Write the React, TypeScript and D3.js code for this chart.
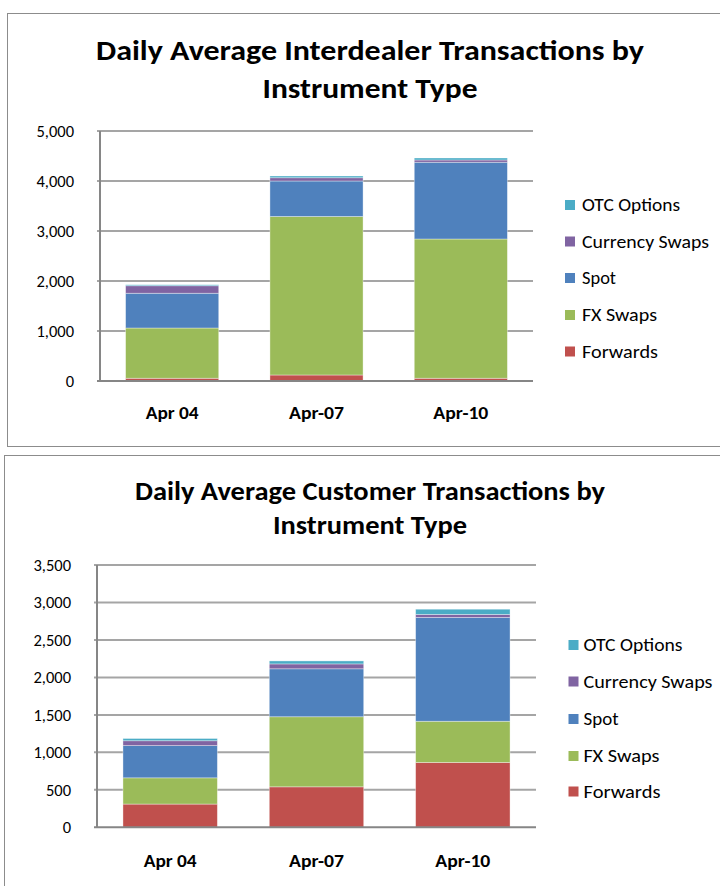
import React from "react";
import * as d3 from "d3";

const categories = ["Apr 04", "Apr-07", "Apr-10"];
const categoryWidths = [53, 55, 55];
const seriesNames = ["Forwards", "FX Swaps", "Spot", "Currency Swaps", "OTC Options"];
const seriesColors = ["#C0504D", "#9BBB59", "#4F81BD", "#8064A2", "#4BACC6"];

const interdealerForwards = [55, 120, 55];
const interdealerFxSwaps = [1005, 3170, 2785];
const interdealerSpot = [695, 710, 1535];
const interdealerCurrencySwaps = [150, 65, 45];
const interdealerOtcOptions = [20, 35, 40];
const interdealerTicks = [0, 1000, 2000, 3000, 4000, 5000];

const customerForwards = [310, 540, 865];
const customerFxSwaps = [350, 935, 550];
const customerSpot = [430, 640, 1385];
const customerCurrencySwaps = [65, 65, 40];
const customerOtcOptions = [30, 40, 70];
const customerTicks = [0, 500, 1000, 1500, 2000, 2500, 3000, 3500];

const FONT = "Carlito, Calibri, Lato, 'Open Sans', sans-serif";

type Panel = {
  frame: { x: number; y: number; w: number; h: number };
  title: { lines: string[]; ys: number[]; widths: number[]; size: number; cx: number };
  plot: { left: number; right: number; top: number; bottom: number };
  ticks: number[];
  series: number[][];
  legend: { sx: number; tx: number; ys: number[]; widths: number[] };
  catY: number;
};

function StackedChart({ p }: { p: Panel }) {
  const rows = categories.map((c, i) => {
    const r: any = { cat: c };
    seriesNames.forEach((s, j) => (r[s] = p.series[j][i]));
    return r;
  });
  const stacked = d3.stack<any>().keys(seriesNames)(rows);
  const x = d3.scaleBand<string>().domain(categories).range([p.plot.left, p.plot.right]).padding(0);
  const barW = x.bandwidth() / 1.55;
  const maxV = p.ticks[p.ticks.length - 1];
  const y = d3.scaleLinear().domain([0, maxV]).range([p.plot.bottom, p.plot.top]);
  const fmt = d3.format(",");
  const legendOrder = [...seriesNames.keys()].reverse();

  return (
    <g>
      <rect x={p.frame.x} y={p.frame.y} width={p.frame.w} height={p.frame.h} fill="#fff" stroke="#8c8c8c" strokeWidth={1} />
      {p.title.lines.map((t, i) => (
        <text key={t} x={p.title.cx} y={p.title.ys[i]} textAnchor="middle" fontFamily={FONT} fontWeight="bold"
          fontSize={p.title.size} textLength={p.title.widths[i]} lengthAdjust="spacingAndGlyphs" fill="#000">{t}</text>
      ))}
      {p.ticks.map((t) => (
        <g key={t}>
          {t > 0 && (
            <line x1={p.plot.left - 3} x2={p.plot.right} y1={y(t)} y2={y(t)} stroke="#a5a5a5" strokeWidth={2} />
          )}
          <text x={p.plot.left - 26} y={y(t)} dy="0.35em" textAnchor="end" fontFamily={FONT} fontSize={16.5} fill="#000">{fmt(t)}</text>
        </g>
      ))}
      {stacked.map((layer, j) => (
        <g key={layer.key} fill={seriesColors[j]}>
          {layer.map((d, i) => (
            <rect key={i} x={x(categories[i])! + (x.bandwidth() - barW) / 2} width={barW}
              y={y(d[1])} height={y(d[0]) - y(d[1])} stroke="rgba(255,255,255,0.45)" strokeWidth={0.8} />
          ))}
        </g>
      ))}
      <line x1={p.plot.left} x2={p.plot.left} y1={p.plot.top} y2={p.plot.bottom} stroke="#868686" strokeWidth={2} />
      <line x1={p.plot.left - 3} x2={p.plot.right} y1={p.plot.bottom} y2={p.plot.bottom} stroke="#868686" strokeWidth={2} />
      {categories.map((c, i) => (
        <text key={c} x={x(c)! + x.bandwidth() / 2} y={p.catY} dy="0.35em" textAnchor="middle" fontFamily={FONT}
          fontWeight="bold" fontSize={17} textLength={categoryWidths[i]} lengthAdjust="spacingAndGlyphs" fill="#000">{c}</text>
      ))}
      {legendOrder.map((j, k) => (
        <g key={seriesNames[j]}>
          <rect x={p.legend.sx} y={p.legend.ys[k] - 5} width={10} height={10} fill={seriesColors[j]} />
          <text x={p.legend.tx} y={p.legend.ys[k]} dy="0.35em" fontFamily={FONT} fontSize={17.5} fill="#000"
            textLength={p.legend.widths[j]} lengthAdjust="spacingAndGlyphs">{seriesNames[j]}</text>
        </g>
      ))}
    </g>
  );
}

const legendWidthsTop = [76, 75, 34, 127, 98];
const legendWidthsBottom = [77, 76, 35, 129, 99];

const panels: Panel[] = [
  {
    frame: { x: 7.5, y: 13.5, w: 730, h: 433 },
    title: { lines: ["Daily Average Interdealer Transactions  by", "Instrument Type"], ys: [60, 98], widths: [548, 215], size: 29, cx: 370 },
    plot: { left: 100, right: 533, top: 131, bottom: 381 },
    ticks: interdealerTicks,
    series: [interdealerForwards, interdealerFxSwaps, interdealerSpot, interdealerCurrencySwaps, interdealerOtcOptions],
    legend: { sx: 565, tx: 582, ys: [205, 241.5, 278, 315, 351.5], widths: legendWidthsTop },
    catY: 413,
  },
  {
    frame: { x: 4.5, y: 455.5, w: 730, h: 440 },
    title: { lines: ["Daily Average Customer Transactions by", "Instrument Type"], ys: [500, 534], widths: [470, 194], size: 26, cx: 370 },
    plot: { left: 97, right: 536, top: 565, bottom: 827.3 },
    ticks: customerTicks,
    series: [customerForwards, customerFxSwaps, customerSpot, customerCurrencySwaps, customerOtcOptions],
    legend: { sx: 568.5, tx: 583.5, ys: [645, 681.5, 719, 756, 791.5], widths: legendWidthsBottom },
    catY: 861.5,
  },
];

export default function App() {
  return (
    <svg width={720} height={886} style={{ position: "absolute", left: 0, top: 0, display: "block", background: "#fff" }}>
      <rect width={720} height={886} fill="#fff" />
      {panels.map((p, i) => (
        <StackedChart key={i} p={p} />
      ))}
    </svg>
  );
}
